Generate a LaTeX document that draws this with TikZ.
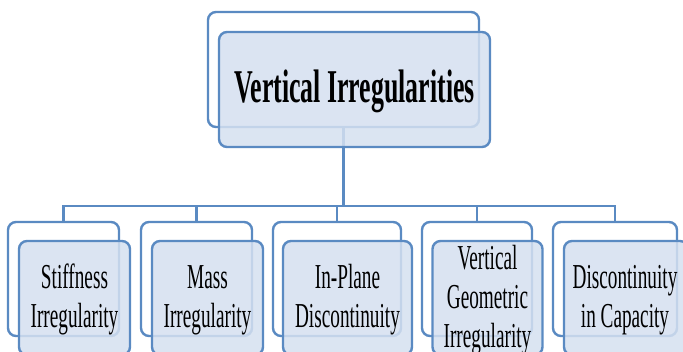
\documentclass[tikz,border=0pt]{standalone}
\usepackage{fontspec}
\setmainfont{Liberation Serif}
\definecolor{edgeblue}{HTML}{5A8AC2}
\definecolor{boxfill}{HTML}{D5E0F0}
\tikzset{
  backbox/.style={draw=edgeblue, line width=2.4pt, fill=white, rounded corners=8pt, inner sep=0pt},
  frontbox/.style={draw=edgeblue, line width=2.4pt, fill=boxfill, fill opacity=0.85, rounded corners=8pt, inner sep=0pt},
  conn/.style={draw=edgeblue, line width=2.4pt},
  lbl/.style={inner sep=0pt, text=black},
}
\newcommand{\boxtext}[1]{\scalebox{0.55}[1]{\fontsize{35}{39}\selectfont\setlength{\tabcolsep}{0pt}\begin{tabular}{c}#1\end{tabular}}}
\begin{document}
\begin{tikzpicture}[x=1pt, y=-1pt]
\useasboundingbox (0,0) rectangle (683,352);
\clip (0,0) rectangle (683,352);
% back boxes
\node[backbox, minimum width=271pt, minimum height=115pt] (topb) at (343.5,69.5) {};
\node[backbox, minimum width=111pt, minimum height=114pt] (b1) at (63.5,279) {};
\node[backbox, minimum width=111pt, minimum height=114pt] (b2) at (196.5,279) {};
\node[backbox, minimum width=128pt, minimum height=114pt] (b3) at (337,279) {};
\node[backbox, minimum width=110pt, minimum height=114pt] (b4) at (477,279) {};
\node[backbox, minimum width=124pt, minimum height=114pt] (b5) at (615,279) {};
% connectors
\coordinate (j) at (343.5,206);
\draw[conn] (topb.south) -- (j);
\foreach \b in {b1,b2,b3,b4,b5} {\draw[conn] (\b.north) |- (j);}
% front boxes
\node[frontbox, minimum width=271pt, minimum height=115pt] (topf) at (354.5,89.5) {};
\node[frontbox, minimum width=111pt, minimum height=114pt] (f1) at (74.5,298) {};
\node[frontbox, minimum width=111pt, minimum height=114pt] (f2) at (207.5,298) {};
\node[frontbox, minimum width=129pt, minimum height=114pt] (f3) at (347.5,298) {};
\node[frontbox, minimum width=110pt, minimum height=114pt] (f4) at (487.5,298) {};
\node[frontbox, minimum width=124pt, minimum height=114pt] (f5) at (626,298) {};
% texts
\node[lbl, anchor=base] (tt) at (354.5,103) {\scalebox{0.55}[1]{\fontsize{47}{52}\selectfont\bfseries Vertical Irregularities}};
\node[lbl] (t1) at (74.5,300.7) {\boxtext{Stiffness\\Irregularity}};
\node[lbl] (t2) at (207.5,300.7) {\boxtext{Mass\\Irregularity}};
\node[lbl] (t3) at (347.5,300.7) {\boxtext{In-Plane\\Discontinuity}};
\node[lbl] (t4) at (487.5,300.7) {\boxtext{Vertical\\Geometric\\Irregularity}};
\node[lbl] (t5) at (625,300.7) {\boxtext{Discontinuity\\in Capacity}};
\end{tikzpicture}
\end{document}
